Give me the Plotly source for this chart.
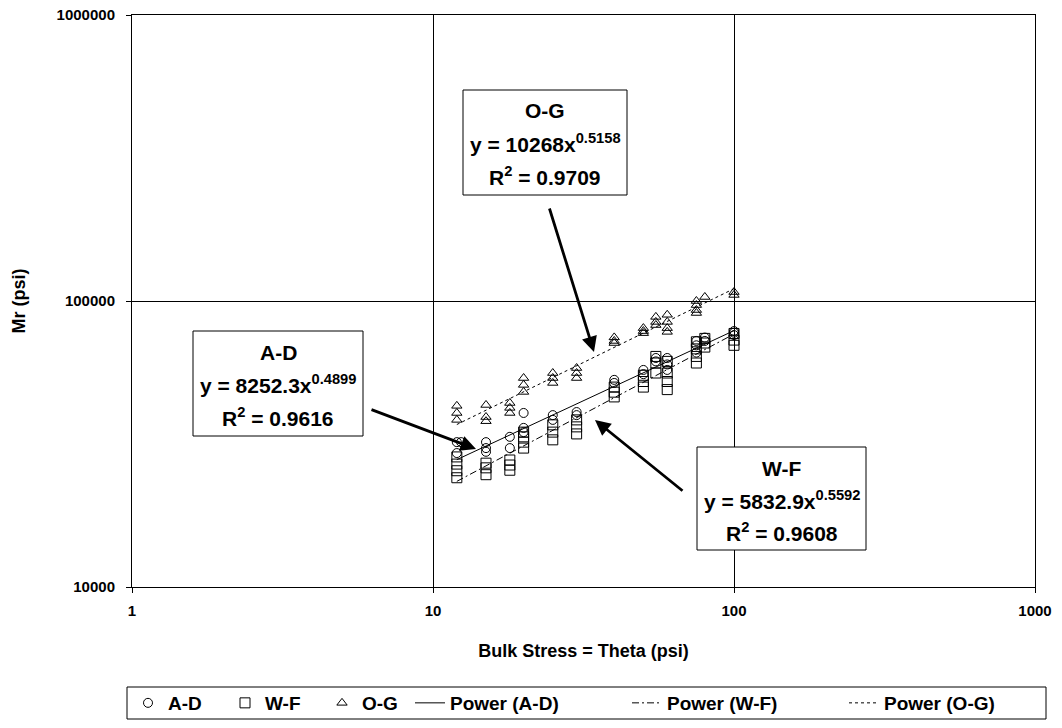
import plotly.graph_objects as go

# ---------------- data ----------------
ad_theta = [12, 12.4, 12, 15, 15, 15, 18, 18, 20, 20, 20, 25, 25, 30, 30, 40, 40,
            50, 50, 55, 55, 60, 60, 60, 75, 75, 75, 80, 80, 100, 100, 100]
ad_mr = [32100, 32100, 29400, 32100, 30600, 29700, 33500, 30600, 40600, 36000, 34800,
         39900, 38400, 40900, 39900, 53000, 51700, 57400, 55500, 63200, 61500,
         63200, 57400, 60000, 72500, 70000, 66000, 74500, 72500, 78500, 77500, 76000]

wf_theta = [12, 12, 12, 12, 15, 15, 15, 18, 18, 18, 20, 20, 20, 20, 25, 25, 25,
            30, 30, 30, 40, 40, 40, 50, 50, 50, 55, 55, 55, 60, 60, 60, 60,
            75, 75, 75, 75, 80, 80, 80, 100, 100, 100]
wf_mr = [28500, 26900, 25500, 24100, 27100, 26100, 24700, 27800, 26700, 25600,
         34800, 33500, 32100, 30600, 36900, 34800, 32700, 38400, 36300, 34300,
         50000, 48000, 46200, 55000, 52300, 50000, 64000, 60700, 56000,
         61500, 56000, 52300, 49000, 72000, 68000, 64000, 60700,
         74000, 71300, 69000, 77000, 73000, 70000]

og_theta = [12, 12, 12, 15, 15, 15, 18, 18, 18, 20, 20, 20, 25, 25, 25, 30, 30, 30,
            40, 40, 40, 50, 50, 50, 55, 55, 55, 60, 60, 60, 60, 75, 75, 75, 75,
            80, 100, 100]
og_mr = [43000, 40600, 38400, 43300, 39300, 38000, 44000, 42300, 40600,
         53800, 50900, 48100, 56000, 53800, 51700, 58300, 56000, 53800,
         74600, 72500, 71300, 80400, 78500, 77200, 88000, 84500, 82400,
         89500, 84500, 80400, 78000, 100000, 96800, 93000, 90800,
         103300, 107500, 105000]

series_names = ["A-D", "W-F", "O-G"]
fit_names = ["Power (A-D)", "Power (W-F)", "Power (O-G)"]
fit_a = [8252.3, 5832.9, 10268]
fit_b = [0.4899, 0.5592, 0.5158]
fit_r2 = ["0.9616", "0.9608", "0.9709"]

x_tickvals = [1, 10, 100, 1000]
x_ticktext = ["1", "10", "100", "1000"]
y_tickvals = [10000, 100000, 1000000]
y_ticktext = ["10000", "100000", "1000000"]

# ---------------- figure ----------------
FONT = "Liberation Sans, Arial, sans-serif"
fig = go.Figure()

thetas = [ad_theta, wf_theta, og_theta]
mrs = [ad_mr, wf_mr, og_mr]
symbols = ["circle-open", "square-open", "triangle-up-open"]
sizes = [9, 10, 9]
for name, th, mr, sym, sz in zip(series_names, thetas, mrs, symbols, sizes):
    fig.add_trace(go.Scatter(
        x=th, y=mr, mode="markers", name=name, legend="legend",
        marker=dict(symbol=sym, size=sz, color="black", line=dict(color="black", width=1)),
    ))

dashes = ["solid", "7px,3px,2px,3px", "3px,3px"]
for i, (fname, a, b, dash) in enumerate(zip(fit_names, fit_a, fit_b, dashes)):
    th = thetas[i]
    xs = [min(th), max(th)]
    ys = [a * x ** b for x in xs]
    fig.add_trace(go.Scatter(
        x=xs, y=ys, mode="lines", name=fname, legend="legend2",
        line=dict(color="black", width=1, dash=dash),
    ))

# plot area in pixels
L, R, T, B = 132, 1035, 15, 587
W, H = 1062, 728


def px2paper(px, py):
    return (px - L) / (R - L), (B - py) / (B - T)


# equation boxes: (left, right, top, bottom, line y centers)
boxes = [
    (463, 627, 90, 195, [111, 143, 176]),   # O-G
    (193, 363, 331, 436, [352, 384, 417]),  # A-D
    (697, 866, 447, 550, [468, 500, 532]),  # W-F
]
box_series = [2, 0, 1]
for (l, r, t, bt, lines), si in zip(boxes, box_series):
    x0, y1 = px2paper(l, t)
    x1, y0 = px2paper(r, bt)
    fig.add_shape(type="rect", xref="paper", yref="paper", x0=x0, x1=x1, y0=y0, y1=y1,
                  line=dict(color="black", width=1), fillcolor="white", layer="above")
    texts = [series_names[si],
             f"y = {fit_a[si]:g}x<sup>{fit_b[si]:.4f}</sup>",
             f"R<sup>2</sup> = {fit_r2[si]}"]
    cx = (l + r) / 2
    for txt, ly in zip(texts, lines):
        ax_, ay_ = px2paper(cx, ly)
        fig.add_annotation(x=ax_, y=ay_, xref="paper", yref="paper", text=txt,
                           showarrow=False, xanchor="center", yanchor="middle",
                           font=dict(family=FONT, size=21, color="black", weight="bold"))

# arrows: (tip px, tail px)
arrows = [((594, 352), (549, 207)), ((476, 449), (370, 409)), ((595, 420), (684, 492))]
for (tx, ty), (sx, sy) in arrows:
    px_, py_ = px2paper(tx, ty)
    fig.add_annotation(x=px_, y=py_, xref="paper", yref="paper", text="",
                       showarrow=True, ax=sx - tx, ay=sy - ty, axref="pixel", ayref="pixel",
                       arrowhead=2, arrowsize=1.1, arrowwidth=2.8, arrowcolor="black",
                       standoff=0, startstandoff=0)

# legend border
lx0, ly1 = px2paper(127, 687)
lx1, ly0 = px2paper(1046, 719)
fig.add_shape(type="rect", xref="paper", yref="paper", x0=lx0, x1=lx1, y0=ly0, y1=ly1,
              line=dict(color="black", width=1), fillcolor="rgba(0,0,0,0)")

leg_y = px2paper(0, 703)[1]
legfont = dict(family=FONT, size=19, color="black", weight="bold")

fig.update_layout(
    width=W, height=H,
    margin=dict(l=L, r=W - R, t=T, b=H - B, autoexpand=False),
    paper_bgcolor="white", plot_bgcolor="white",
    font=dict(family=FONT, color="black", weight="bold"),
    showlegend=True,
    legend=dict(orientation="h", x=px2paper(128, 0)[0], xanchor="left", y=leg_y,
                yanchor="middle", font=legfont, bgcolor="rgba(0,0,0,0)", borderwidth=0,
                entrywidthmode="pixels", entrywidth=52, itemwidth=30),
    legend2=dict(orientation="h", x=px2paper(410, 0)[0], xanchor="left", y=leg_y,
                 yanchor="middle", font=legfont, bgcolor="rgba(0,0,0,0)", borderwidth=0,
                 entrywidthmode="pixels", entrywidth=172, itemwidth=30),
    xaxis=dict(type="log", range=[0, 3], tickvals=x_tickvals, ticktext=x_ticktext,
               showgrid=True, gridcolor="black", gridwidth=1,
               showline=True, linecolor="black", linewidth=1, mirror=True,
               ticks="outside", ticklen=5, tickcolor="black",
               tickfont=dict(family=FONT, size=15, color="black", weight="bold"),
               ticklabelstandoff=5, zeroline=False,
               title=dict(text="Bulk Stress = Theta (psi)", standoff=26,
                          font=dict(family=FONT, size=18, color="black", weight="bold"))),
    yaxis=dict(type="log", range=[4, 6], tickvals=y_tickvals, ticktext=y_ticktext,
               showgrid=True, gridcolor="black", gridwidth=1,
               showline=True, linecolor="black", linewidth=1, mirror=True,
               ticks="outside", ticklen=5, tickcolor="black",
               tickfont=dict(family=FONT, size=15, color="black", weight="bold"),
               ticklabelstandoff=8, zeroline=False,
               title=dict(text="Mr (psi)", standoff=26,
                          font=dict(family=FONT, size=18, color="black", weight="bold"))),
)

fig.write_html(
    "out.html",
    config={"displayModeBar": False},
    post_script="document.body.style.margin='0';document.body.style.overflow='hidden';",
)
